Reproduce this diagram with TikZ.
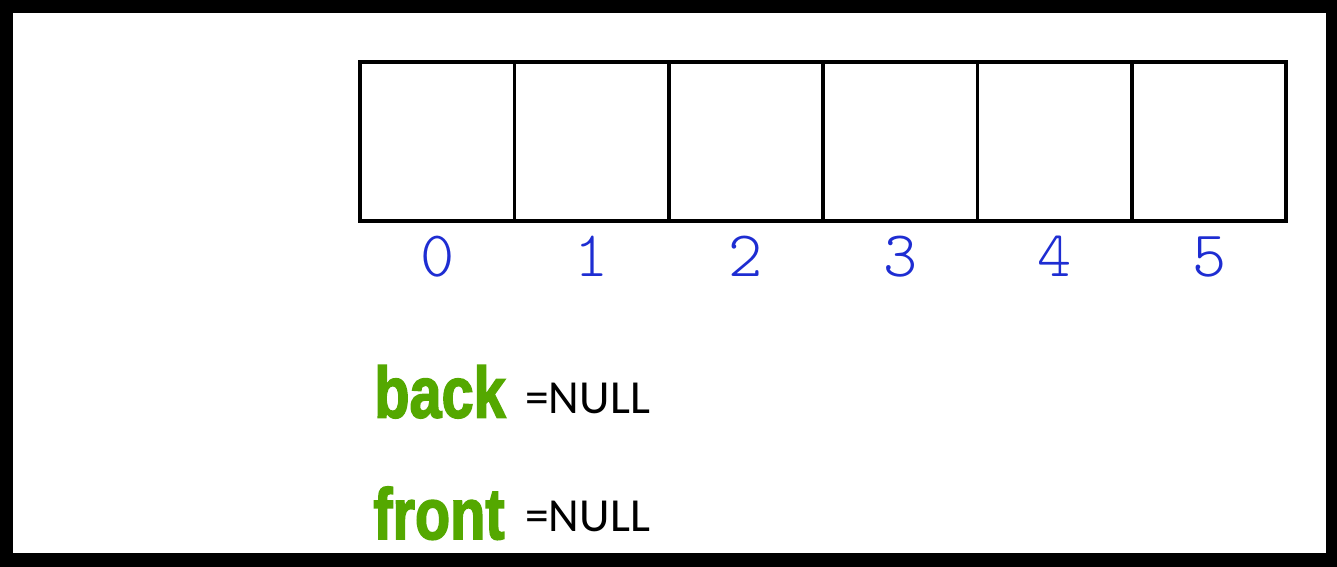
\documentclass[tikz,border=0pt]{standalone}
\usepackage{fontspec}
\usetikzlibrary{positioning,calc}

\newfontfamily\idxfont{Latin Modern Mono Light}
\newfontfamily\valfont{Carlito}
\newfontfamily\namefont[BoldFeatures={FakeBold=2.5}]{Liberation Sans}
\definecolor{idxblue}{RGB}{30,45,210}
\definecolor{namegreen}{RGB}{84,168,0}

\tikzset{
  cellbox/.style={draw, rectangle, line width=2pt, minimum width=3.088cm, minimum height=3.18cm, inner sep=0pt, outer sep=0pt},
  idxlabel/.style={anchor=base, inner sep=0pt, text=idxblue, font=\idxfont\fontsize{37}{40}\selectfont},
  ptrname/.style={anchor=base west, inner sep=0pt, text=namegreen, font=\namefont\bfseries\fontsize{41}{44}\selectfont},
  ptrvalue/.style={anchor=base west, inner sep=0pt, font=\valfont\fontsize{27}{30}\selectfont}
}

\begin{document}
\begin{tikzpicture}[x=0.02cm, y=-0.02cm]

    % frame
    \fill[black] (0,0) rectangle (1337,567);
    \fill[white] (13,13) rectangle (1326,553);

    % array cells and their indices
    \node[cellbox] (cell0) at (437.2,141.5) {};
    \foreach \i [count=\j from 0] in {1,...,5}
        \node[cellbox, right=0pt of cell\j] (cell\i) {};
    \foreach \i in {0,...,5}
        \node[idxlabel] (idx\i) at ($(cell\i.south)+(0,56)$) {\i};

    % pointers
    \node[ptrname] (back) at (374,417.5) {\scalebox{0.8}[1]{back}};
    \node[ptrvalue] (backval) at (525,413) {=NULL};
    \node[ptrname] (front) at (373,539) {\scalebox{0.8}[1]{front}};
    \node[ptrvalue] (frontval) at (525,531) {=NULL};

\end{tikzpicture}
\end{document}
